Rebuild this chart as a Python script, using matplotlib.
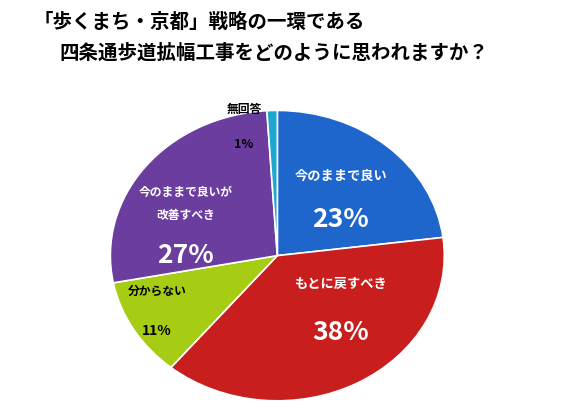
import matplotlib
matplotlib.use("Agg")
import matplotlib.pyplot as plt

plt.rcParams['font.family'] = ['Noto Sans CJK JP', 'DejaVu Sans']

labels = ["今のままで良い", "もとに戻すべき", "分からない", "今のままで良いが\n改善すべき", "無回答"]
values = [23, 38, 11, 27, 1]
colors = ["#1f66cc", "#c81e1e", "#a6cc14", "#6a3d9e", "#1ea8d0"]

fig = plt.figure(figsize=(5.66, 4.09), dpi=100)
fig.patch.set_facecolor("white")
fig.text(0.06, 0.945, "「歩くまち・京都」戦略の一環である", ha="left", va="center",
         fontsize=14, fontweight="bold")
fig.text(0.105, 0.87, "四条通歩道拡幅工事をどのように思われますか？", ha="left", va="center",
         fontsize=14, fontweight="bold")

ax = fig.add_axes([0.195, 0.02, 0.59, 0.71])
wedges, _ = ax.pie(values, colors=colors, startangle=90, counterclock=False,
                   wedgeprops=dict(edgecolor="white", linewidth=1.2))
ax.set_xlim(-1, 1); ax.set_ylim(-1, 1)
ax.set_aspect("auto")

ax.text(0.38, 0.52, labels[0], color="white", fontsize=9.5, fontweight="bold", ha="center")
ax.text(0.38, 0.2, f"{values[0]}%", color="white", fontsize=19, fontweight="bold", ha="center")
ax.text(0.38, -0.22, labels[1], color="white", fontsize=9.5, fontweight="bold", ha="center")
ax.text(0.38, -0.58, f"{values[1]}%", color="white", fontsize=19, fontweight="bold", ha="center")
ax.text(-0.72, -0.27, labels[2], color="black", fontsize=8.5, fontweight="bold", ha="center")
ax.text(-0.72, -0.55, f"{values[2]}%", color="black", fontsize=10, fontweight="bold", ha="center")
ax.text(-0.55, 0.25, labels[3], color="white", fontsize=8.5, fontweight="bold", ha="center", linespacing=2.0)
ax.text(-0.55, -0.05, f"{values[3]}%", color="white", fontsize=19, fontweight="bold", ha="center")
ax.text(-0.2, 0.98, labels[4], color="black", fontsize=8.5, fontweight="bold", ha="center")
ax.text(-0.2, 0.74, f"{values[4]}%", color="black", fontsize=9, fontweight="bold", ha="center")

fig.savefig("out.png", dpi=100, facecolor="white")
